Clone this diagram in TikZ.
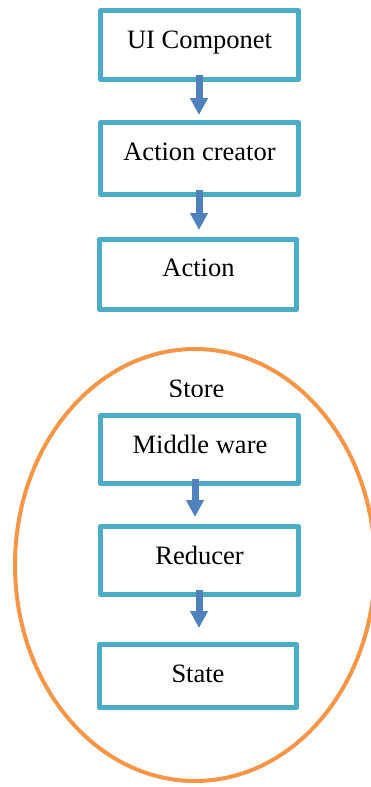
\documentclass[tikz,border=0pt]{standalone}
\usepackage{fontspec}
\setmainfont{Liberation Serif}
\usetikzlibrary{arrows.meta}
\definecolor{boxline}{HTML}{4BACC6}
\definecolor{flowblue}{HTML}{4F81BD}
\definecolor{storeline}{HTML}{F79646}
\tikzset{
  stagebox/.style={draw=boxline, line width=5pt, line join=round, fill=white,
    rectangle, inner sep=0pt, outer sep=0pt},
  boxlabel/.style={anchor=base, inner sep=0pt,
    font=\fontsize{26.5}{30}\selectfont},
  flow/.style={draw=flowblue, line width=7pt,
    -{Triangle[width=17pt,length=17pt]}, shorten <=-2pt},
  storering/.style={draw=storeline, line width=4pt}
}
\begin{document}
\begin{tikzpicture}[x=1pt,y=-1pt]
\useasboundingbox (0,0) rectangle (371,787);

% the store enclosure
\draw[storering] (195,565) ellipse [x radius=180pt, y radius=216pt];
\begin{scope}
  \clip (140,370) rectangle (260,396);
  \node[boxlabel] (storelabel) at (196.5,397) {Store};
\end{scope}

% stage boxes
\node[stagebox, minimum width=198pt, minimum height=69pt] (ui)   at (199.5,45)    {};
\node[stagebox, minimum width=198pt, minimum height=72pt] (ac)   at (199.5,158.5) {};
\node[stagebox, minimum width=197pt, minimum height=70pt] (act)  at (198,274.5)   {};
\node[stagebox, minimum width=198pt, minimum height=68pt] (mw)   at (199.5,449.5) {};
\node[stagebox, minimum width=198pt, minimum height=68pt] (red)  at (199.5,560.5) {};
\node[stagebox, minimum width=197pt, minimum height=63pt] (st)   at (198,676)     {};

% box captions
\node[boxlabel] (uit)  at (199.5,48)  {UI Componet};
\node[boxlabel] (act1) at (199.5,160) {Action creator};
\node[boxlabel] (actt) at (198.5,276) {Action};
\node[boxlabel] (mwt)  at (200,453)   {Middle ware};
\node[boxlabel] (redt) at (199.5,564) {Reducer};
\node[boxlabel] (stt)  at (198,682)   {State};

% flow arrows
\draw[flow] ([xshift=-0.5pt,yshift=2.5pt]ui.south)  -- ([xshift=-0.5pt,yshift=7.5pt]ac.north);
\draw[flow] ([xshift=-0.5pt,yshift=2.5pt]ac.south)  -- ([xshift=1pt,yshift=9.5pt]act.north);
\draw[flow] ([xshift=-4.5pt,yshift=2.5pt]mw.south)  -- ([xshift=-4.5pt,yshift=9.5pt]red.north);
\draw[flow] ([xshift=-0.5pt,yshift=2.5pt]red.south) -- ([xshift=1pt,yshift=16.5pt]st.north);
\end{tikzpicture}
\end{document}
